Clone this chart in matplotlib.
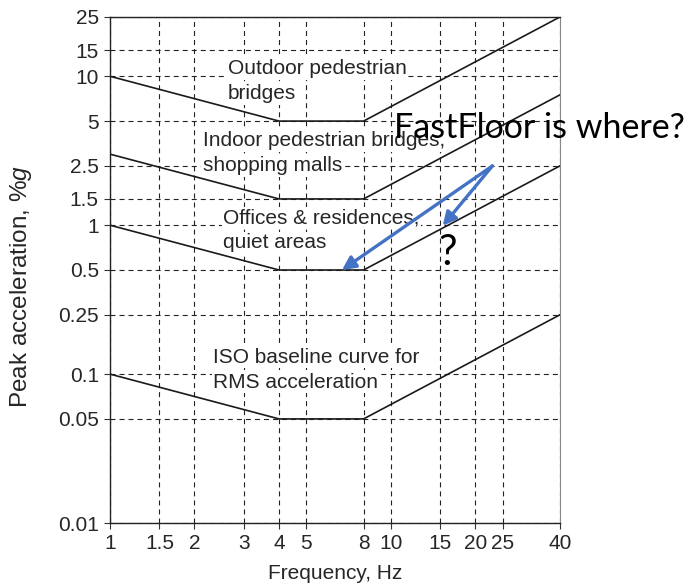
import numpy as np
import matplotlib
matplotlib.use('Agg')
import matplotlib.pyplot as plt

plt.rcParams['font.family'] = ['Liberation Sans', 'DejaVu Sans']
plt.rcParams['mathtext.fontset'] = 'custom'
plt.rcParams['mathtext.it'] = 'Liberation Sans:italic'
plt.rcParams['mathtext.rm'] = 'Liberation Sans'
plt.rcParams['lines.scale_dashes'] = False

# curve corner points (Hz, peak acceleration %g)
freq = [1, 4, 8, 40]
baseline = [0.1, 0.05, 0.05, 0.25]
offices = [1, 0.5, 0.5, 2.5]
indoor = [3, 1.5, 1.5, 7.5]
outdoor = [10, 5, 5, 25]

x_ticks = [1, 1.5, 2, 3, 4, 5, 8, 10, 15, 20, 25, 40]
x_labels = ['1', '1.5', '2', '3', '4', '5', '8', '10', '15', '20', '25', '40']
y_ticks = [0.01, 0.05, 0.1, 0.25, 0.5, 1, 1.5, 2.5, 5, 10, 15, 25]
y_labels = ['0.01', '0.05', '0.1', '0.25', '0.5', '1', '1.5', '2.5', '5', '10', '15', '25']

txt = '#262626'
blue = '#4472C4'

fig = plt.figure(figsize=(6.87, 5.86), dpi=100)
ax = fig.add_axes([0.160, 0.1075, 0.655, 0.8635])

for y in [baseline, offices, indoor, outdoor]:
    ax.plot(freq, y, color='#1a1a1a', lw=1.2, zorder=4)

ax.set_xscale('log')
ax.set_yscale('log')
ax.set_xlim(1, 40)
ax.set_ylim(0.01, 25)
ax.set_xticks(x_ticks)
ax.set_xticklabels(x_labels)
ax.set_yticks(y_ticks)
ax.set_yticklabels(y_labels)
ax.minorticks_off()
ax.tick_params(axis='both', labelsize=15, length=4, width=0.8, colors='#333333',
               labelcolor=txt, pad=4)
ax.grid(True, color='#222222', lw=0.8, linestyle=(0, (3.6, 2.9)), zorder=1)

for s in ['left', 'bottom', 'top']:
    ax.spines[s].set_color('#222222')
    ax.spines[s].set_linewidth(1.0)
ax.spines['right'].set_color('#888888')

ax.set_xlabel('Frequency, Hz', fontsize=15, color=txt)
ax.xaxis.set_label_coords(0.5, -0.082)
ax.set_ylabel(r'Peak acceleration, %$\mathit{g}$', fontsize=17.5, color=txt)
ax.yaxis.set_label_coords(-0.168, 0.468)

box = dict(facecolor='white', edgecolor='none', pad=1)
labels = [
    (2.63, 11.2, 'Outdoor pedestrian'),
    (2.63, 7.62, 'bridges'),
    (2.14, 3.69, 'Indoor pedestrian bridges,'),
    (2.14, 2.51, 'shopping malls'),
    (2.53, 1.12, 'Offices & residences,'),
    (2.53, 0.764, 'quiet areas'),
    (2.33, 0.130, 'ISO baseline curve for'),
    (2.33, 0.0881, 'RMS acceleration'),
]
for lx, ly, s in labels:
    ax.text(lx, ly, s, fontsize=15, color=txt, ha='left', va='center',
            bbox=box, zorder=3)

# annotation on top
ax.text(10.3, 4.5, 'FastFloor is where?', fontsize=24.5, family=['Lato', 'DejaVu Sans'],
        color='black', ha='left', va='center', zorder=6, clip_on=False)
ax.text(16, 0.655, '?', fontsize=30, family=['Lato', 'DejaVu Sans'],
        color='black', ha='center', va='center', zorder=6)
for tip in [(6.7, 0.5), (15.3, 0.99)]:
    ax.annotate('', xy=tip, xytext=(23, 2.5),
                arrowprops=dict(arrowstyle='-|>', color=blue, lw=2.4,
                                mutation_scale=20, shrinkA=0, shrinkB=0),
                zorder=7)

plt.savefig('out.png', dpi=100)
